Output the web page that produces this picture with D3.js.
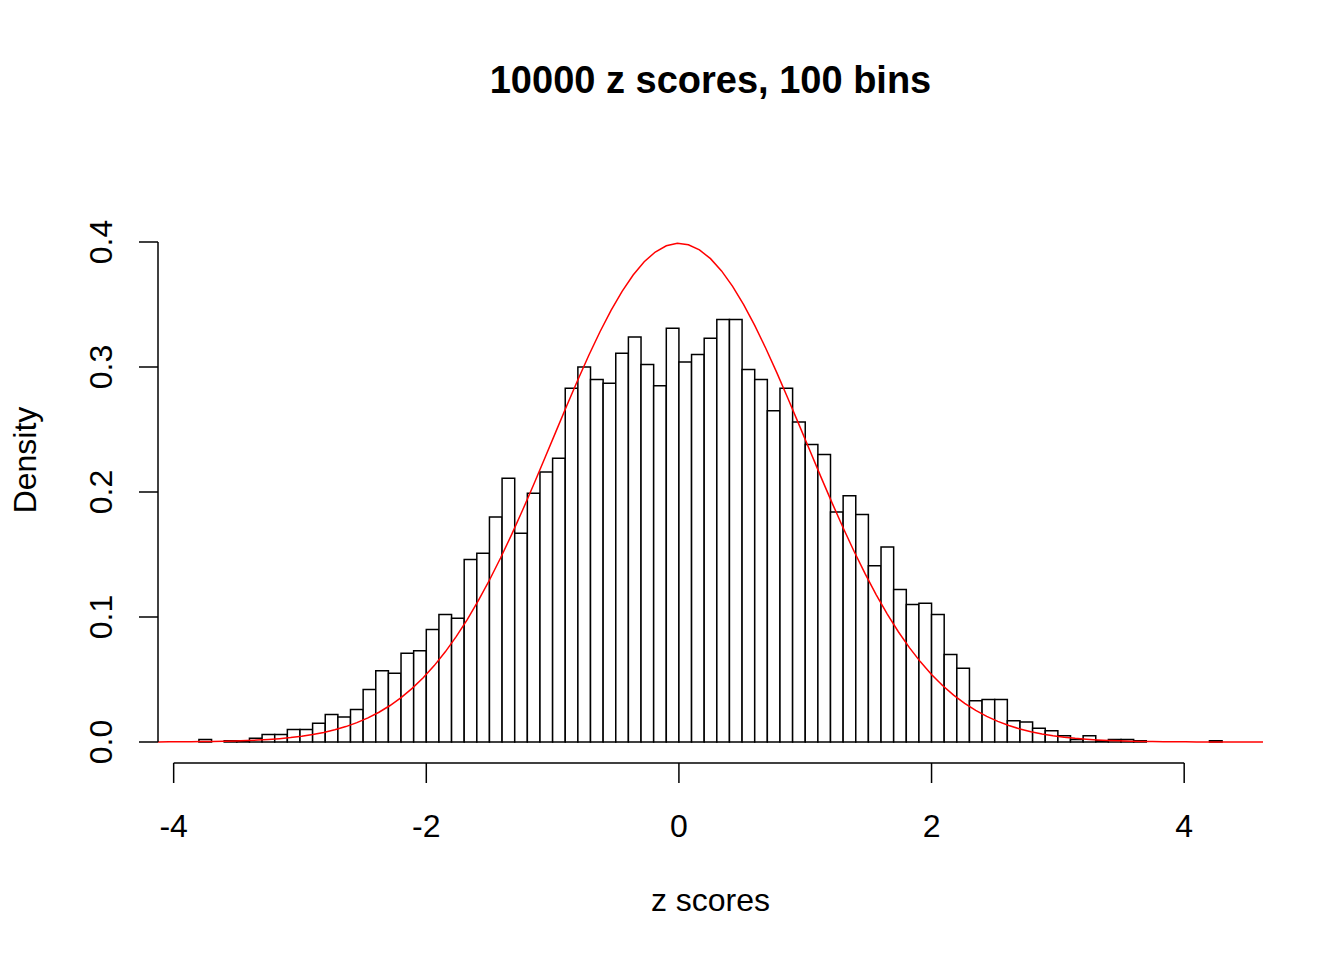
<!DOCTYPE html>
<html>
<head>
<meta charset="utf-8">
<script src="https://cdn.jsdelivr.net/npm/d3@7"></script>
<style>
  html, body { margin: 0; padding: 0; background: #fff; }
  svg { display: block; }
  text { font-family: "Liberation Sans", Arial, sans-serif; fill: #000; }
</style>
</head>
<body>
<svg id="chart" width="1344" height="960"></svg>
<script>
// Histogram of 10000 z scores: bin width 0.1, first break at -3.8
const binStart = -3.8;
const binWidth = 0.1;
const densities = [
  0.002, 0.000, 0.001, 0.001, 0.003, 0.006, 0.006, 0.010, 0.010, 0.015,
  0.022, 0.020, 0.026, 0.042, 0.057, 0.055, 0.071, 0.073, 0.090, 0.102,
  0.099, 0.146, 0.151, 0.180, 0.211, 0.167, 0.199, 0.216, 0.227, 0.283,
  0.300, 0.290, 0.287, 0.311, 0.324, 0.302, 0.285, 0.331, 0.304, 0.310,
  0.323, 0.338, 0.338, 0.298, 0.290, 0.265, 0.283, 0.256, 0.238, 0.230,
  0.184, 0.197, 0.182, 0.141, 0.156, 0.122, 0.110, 0.111, 0.102, 0.070,
  0.059, 0.033, 0.034, 0.034, 0.017, 0.016, 0.011, 0.009, 0.005, 0.002,
  0.005, 0.001, 0.002, 0.002, 0.001, 0.000, 0.000, 0.000, 0.000, 0.000,
  0.001
];
const xTicks = [-4, -2, 0, 2, 4];
const yTicks = [0.0, 0.1, 0.2, 0.3, 0.4];
const yTickLabels = ["0.0", "0.1", "0.2", "0.3", "0.4"];
const titleText = "10000 z scores, 100 bins";
const xLabel = "z scores";
const yLabel = "Density";

const bins = densities.map((d, i) => {
  const x0 = +(binStart + i * binWidth).toFixed(1);
  return { x0, x1: +(x0 + binWidth).toFixed(1), density: d };
});

// x range spans the breaks, widened by 4% on each side
const lo = bins[0].x0, hi = bins[bins.length - 1].x1;
const pad = 0.04 * (hi - lo);
const x = d3.scaleLinear().domain([lo - pad, hi + pad]).range([158, 1263]);
const y = d3.scaleLinear().domain([0, 0.4]).range([742, 242]);

const svg = d3.select("#chart");

// bars
svg.append("g")
  .selectAll("rect")
  .data(bins)
  .join("rect")
  .attr("x", d => x(d.x0))
  .attr("width", d => x(d.x1) - x(d.x0))
  .attr("y", d => y(d.density))
  .attr("height", d => y(0) - y(d.density))
  .attr("fill", "#fff")
  .attr("stroke", "#000")
  .attr("stroke-width", 1.5);

// standard normal density across the full plotting width
const dnorm = z => Math.exp(-z * z / 2) / Math.sqrt(2 * Math.PI);
const [c0, c1] = x.domain();
const curvePts = d3.range(101).map(i => {
  const z = c0 + (c1 - c0) * i / 100;
  return [z, dnorm(z)];
});
svg.append("path")
  .datum(curvePts)
  .attr("d", d3.line().x(d => x(d[0])).y(d => y(d[1])))
  .attr("fill", "none")
  .attr("stroke", "#ff0000")
  .attr("stroke-width", 1.5);

// x axis
const xAxisY = 763;
const xAxis = svg.append("g").attr("transform", `translate(0,${xAxisY})`);
xAxis.append("line")
  .attr("x1", x(xTicks[0])).attr("x2", x(xTicks[xTicks.length - 1]))
  .attr("stroke", "#000").attr("stroke-width", 1.5);
xAxis.selectAll("line.tick")
  .data(xTicks).join("line").attr("class", "tick")
  .attr("x1", d => x(d)).attr("x2", d => x(d))
  .attr("y1", 0).attr("y2", 20)
  .attr("stroke", "#000").attr("stroke-width", 1.5);
xAxis.selectAll("text")
  .data(xTicks).join("text")
  .attr("x", d => x(d)).attr("y", 74)
  .attr("text-anchor", "middle")
  .attr("font-size", 32)
  .text(d => d);

// y axis
const yAxisX = 158;
const yAxis = svg.append("g").attr("transform", `translate(${yAxisX},0)`);
yAxis.append("line")
  .attr("y1", y(yTicks[0])).attr("y2", y(yTicks[yTicks.length - 1]))
  .attr("stroke", "#000").attr("stroke-width", 1.5);
yAxis.selectAll("line.tick")
  .data(yTicks).join("line").attr("class", "tick")
  .attr("y1", d => y(d)).attr("y2", d => y(d))
  .attr("x1", 0).attr("x2", -19)
  .attr("stroke", "#000").attr("stroke-width", 1.5);
yAxis.selectAll("text")
  .data(yTicks).join("text")
  .attr("transform", d => `translate(-46,${y(d)}) rotate(-90)`)
  .attr("text-anchor", "middle")
  .attr("font-size", 32)
  .text((d, i) => yTickLabels[i]);

// title and axis titles
svg.append("text")
  .attr("x", (x.range()[0] + x.range()[1]) / 2).attr("y", 93)
  .attr("text-anchor", "middle")
  .attr("font-size", 38)
  .attr("font-weight", "bold")
  .text(titleText);

svg.append("text")
  .attr("x", (x.range()[0] + x.range()[1]) / 2).attr("y", 911)
  .attr("text-anchor", "middle")
  .attr("font-size", 32)
  .text(xLabel);

svg.append("text")
  .attr("transform", `translate(36,460) rotate(-90)`)
  .attr("text-anchor", "middle")
  .attr("font-size", 32)
  .text(yLabel);
</script>
</body>
</html>
